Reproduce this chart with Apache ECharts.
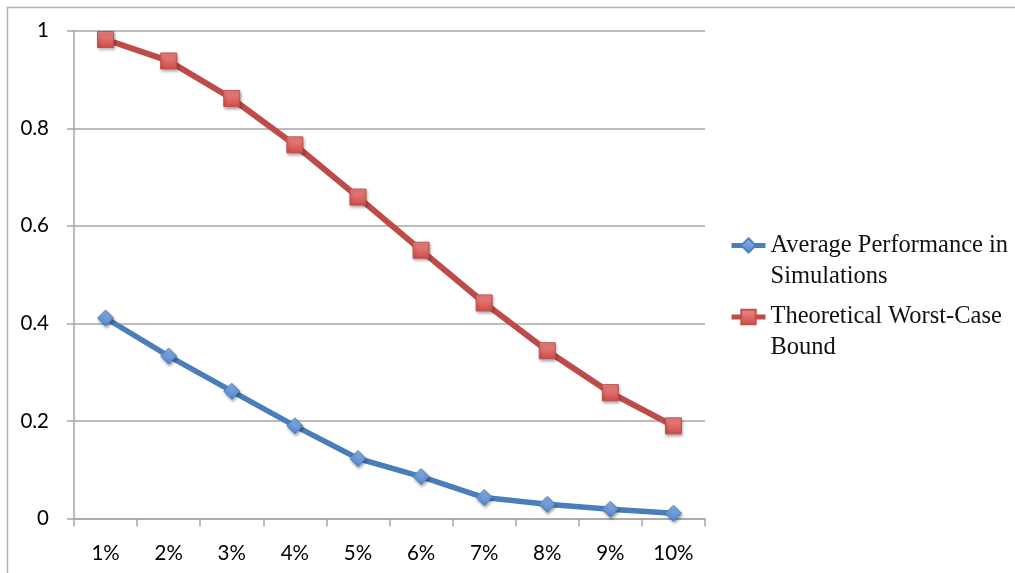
<!DOCTYPE html>
<html>
<head>
<meta charset="utf-8">
<script src="https://cdn.jsdelivr.net/npm/echarts@6/dist/echarts.min.js"></script>
<style>
  html, body { margin: 0; padding: 0; background: #fff; }
  #chart { width: 1015px; height: 573px; }
</style>
</head>
<body>
<div id="chart"></div>
<script>
// Share of errors left vs. noise level
const categories = ['1%', '2%', '3%', '4%', '5%', '6%', '7%', '8%', '9%', '10%'];
const averageSim = [0.411, 0.333, 0.261, 0.190, 0.123, 0.086, 0.043, 0.029, 0.019, 0.011];
const worstCase = [0.982, 0.938, 0.861, 0.766, 0.659, 0.550, 0.442, 0.344, 0.258, 0.190];
const yTicks = { min: 0, max: 1, step: 0.2 };
const seriesNames = ['Average Performance in\nSimulations', 'Theoretical Worst-Case\nBound'];

const chart = echarts.init(document.getElementById('chart'), null, { renderer: 'canvas' });

const axisGray = '#a6a6a6';
const labelFont = { fontFamily: 'Lato', fontSize: 20.5, color: '#000' };

// legend text: a blank first line keeps the icon level with the first real line
const legendText = {
  fontFamily: 'Liberation Serif',
  fontSize: 24.5,
  color: '#111',
  lineHeight: 31
};
const legendFormatter = name => '\n' + name;

const markerShadow = {
  shadowBlur: 3,
  shadowOffsetX: 1,
  shadowOffsetY: 2,
  shadowColor: 'rgba(0,0,0,0.35)'
};

const legendBase = {
  left: 729, padding: 0,
  orient: 'vertical', itemWidth: 34, itemHeight: 18, itemGap: 0,
  formatter: legendFormatter,
  lineStyle: { width: 5 },
  textStyle: legendText
};

chart.setOption({
  animation: false,
  backgroundColor: '#fff',
  graphic: [{
    type: 'rect',
    shape: { x: 7.5, y: 7.5, width: 1200, height: 800 },
    style: { fill: 'none', stroke: '#b4b4b4', lineWidth: 1.5 },
    silent: true,
    z: -1
  }],
  grid: { left: 74, right: 310, top: 30.7, bottom: 54.5, containLabel: false },
  legend: [
    Object.assign({ data: [seriesNames[0]], top: 199 }, legendBase),
    Object.assign({ data: [seriesNames[1]], top: 270.5 }, legendBase)
  ],
  xAxis: {
    type: 'category',
    data: categories,
    boundaryGap: true,
    axisLine: { lineStyle: { color: axisGray, width: 1.5 } },
    axisTick: { show: true, length: 8, alignWithLabel: false, lineStyle: { color: axisGray, width: 1.5 } },
    axisLabel: Object.assign({ margin: 24, interval: 0 }, labelFont),
    splitLine: { show: false }
  },
  yAxis: {
    type: 'value',
    min: yTicks.min,
    max: yTicks.max,
    interval: yTicks.step,
    axisLine: { show: true, lineStyle: { color: axisGray, width: 1.5 } },
    axisTick: { show: true, length: 7, lineStyle: { color: axisGray, width: 1.5 } },
    axisLabel: Object.assign({ margin: 25 }, labelFont),
    splitLine: { show: true, lineStyle: { color: axisGray, width: 1.5 } }
  },
  series: [
    {
      name: seriesNames[0],
      type: 'line',
      data: averageSim,
      symbol: 'diamond',
      symbolSize: 16,
      lineStyle: { color: '#4a7ebb', width: 5.5 },
      itemStyle: Object.assign({
        color: new echarts.graphic.LinearGradient(0, 0, 0, 1, [
          { offset: 0, color: '#8fb6ea' },
          { offset: 1, color: '#4f85cc' }
        ]),
        borderColor: '#4f82c4',
        borderWidth: 1
      }, markerShadow),
      z: 3
    },
    {
      name: seriesNames[1],
      type: 'line',
      data: worstCase,
      symbol: 'rect',
      symbolSize: 16,
      lineStyle: { color: '#be4b48', width: 6 },
      itemStyle: Object.assign({
        color: new echarts.graphic.LinearGradient(0, 0, 0, 1, [
          { offset: 0, color: '#f08a88' },
          { offset: 1, color: '#cf4b48' }
        ]),
        borderColor: '#c0504d',
        borderWidth: 1
      }, markerShadow),
      z: 4
    }
  ]
});
</script>
</body>
</html>
